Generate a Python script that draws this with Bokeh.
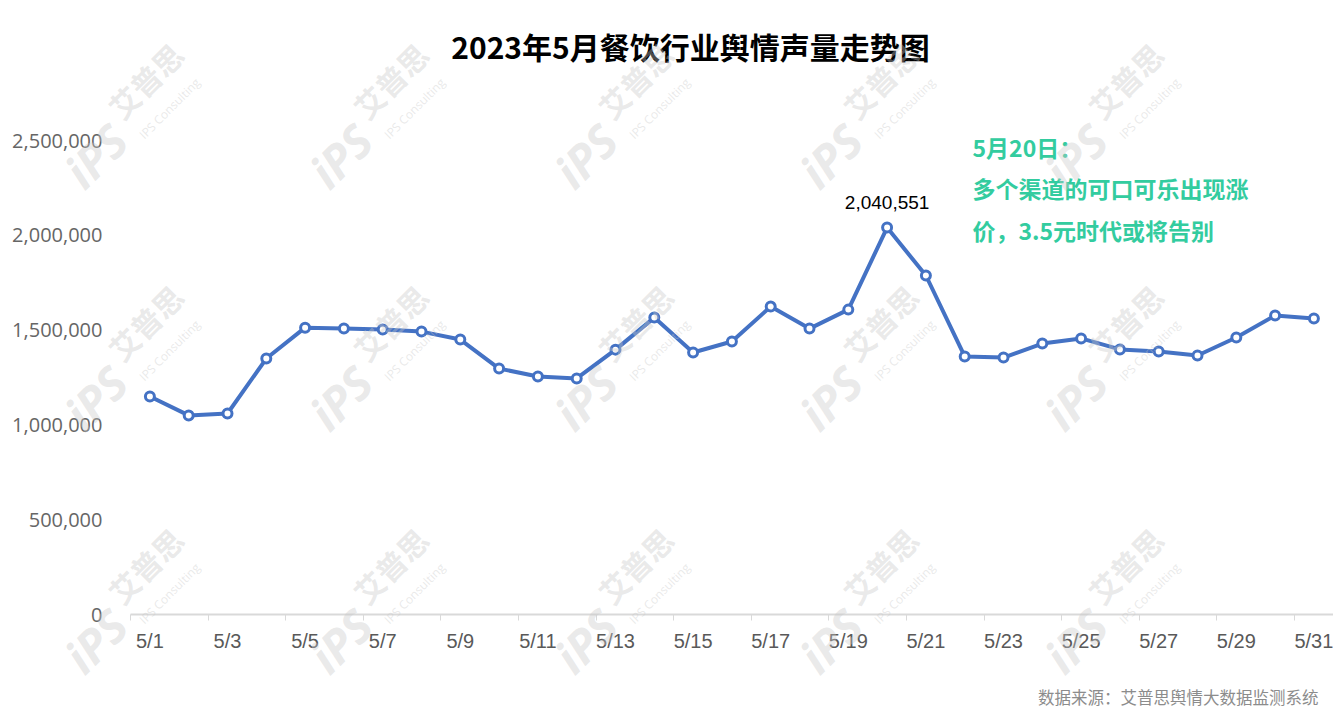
import math
from bokeh.plotting import figure
from bokeh.models import Range1d, FixedTicker, Label, ColumnDataSource
from bokeh.embed import file_html
from bokeh.resources import INLINE

# ---------------- data ----------------
days = list(range(1, 32))
day_labels = [f"5/{d}" for d in days]
volume = [1150000, 1050000, 1060000, 1350000, 1513000, 1508000, 1503000, 1492000,
          1450000, 1297000, 1255000, 1245000, 1397000, 1566000, 1382000, 1440000,
          1624000, 1508000, 1608000, 2040551, 1788000, 1361000, 1355000, 1429000,
          1456000, 1398000, 1387000, 1366000, 1461000, 1577000, 1561000]
y_ticks = [0, 500000, 1000000, 1500000, 2000000, 2500000]
y_tick_labels = ["0", "500,000", "1,000,000", "1,500,000", "2,000,000", "2,500,000"]
x_tick_days = days[::2]
peak_index = volume.index(max(volume))

title_text = "2023年5月餐饮行业舆情声量走势图"
note_lines = ["5月20日：", "多个渠道的可口可乐出现涨", "价，3.5元时代或将告别"]
source_text = "数据来源：艾普思舆情大数据监测系统"

# ---------------- layout helpers (pixel -> data) ----------------
W, H = 1333, 716
AX_L, AX_B = 130, 614          # pixel position of x=0.5 edge and y=0
STEP = 38.8
Y_PX_PER_UNIT = 474 / 2500000.0

def xd(px):
    return 0.5 + (px - AX_L) / STEP

def yd(py):
    return (AX_B - py) / Y_PX_PER_UNIT

p = figure(width=W, height=H, output_backend="svg", toolbar_location=None,
           x_range=Range1d(xd(0), xd(W)),
           y_range=Range1d(yd(H), yd(0)),
           min_border_left=0, min_border_right=0,
           min_border_top=0, min_border_bottom=0)
p.outline_line_color = None
p.background_fill_color = "white"
p.border_fill_color = "white"
p.xgrid.visible = False
p.ygrid.visible = False

# y axis (placed at the left edge of the category area)
p.yaxis.fixed_location = xd(AX_L)
p.yaxis.ticker = FixedTicker(ticks=y_ticks)
p.yaxis.major_label_overrides = {t: l for t, l in zip(y_ticks, y_tick_labels)}
p.yaxis.axis_line_color = None
p.yaxis.major_tick_line_color = None
p.yaxis.minor_tick_line_color = None
p.yaxis.major_label_standoff = 22
p.yaxis.major_label_text_font = "Open Sans"
p.yaxis.major_label_text_font_size = "20px"
p.yaxis.major_label_text_color = "#666666"

# x axis (placed at y = 0)
p.xaxis.fixed_location = 0
p.xaxis.bounds = (0.5, xd(W))
p.xaxis.ticker = FixedTicker(ticks=x_tick_days, minor_ticks=[d - 0.5 for d in x_tick_days])
p.xaxis.major_label_overrides = {d: day_labels[d - 1] for d in x_tick_days}
p.xaxis.axis_line_color = "#d9d9d9"
p.xaxis.axis_line_width = 2
p.xaxis.major_tick_line_color = None
p.xaxis.minor_tick_line_color = "#d9d9d9"
p.xaxis.minor_tick_line_width = 1
p.xaxis.minor_tick_out = 6
p.xaxis.minor_tick_in = 0
p.xaxis.major_label_standoff = 9
p.xaxis.major_label_text_font = "Liberation Sans Narrow, Liberation Sans, sans-serif"
p.xaxis.major_label_text_font_size = "20px"
p.xaxis.major_label_text_color = "#595959"

src = ColumnDataSource(dict(x=days, y=volume))
p.line("x", "y", source=src, line_color="#4472C4", line_width=4)
p.scatter("x", "y", source=src, size=9, fill_color="white", line_color="#4472C4", line_width=3)

# peak label
p.add_layout(Label(x=days[peak_index], y=volume[peak_index] + 130000,
                   text=f"{volume[peak_index]:,}", text_align="center", text_baseline="middle",
                   text_font="Liberation Sans Narrow, Liberation Sans, sans-serif",
                   text_font_size="19px", text_color="#000000"))

# title
p.add_layout(Label(x=xd(690), y=yd(45), text=title_text, text_align="center",
                   text_baseline="middle", text_font="Noto Sans CJK SC",
                   text_font_size="30px", text_font_style="bold", text_color="#000000"))

# green note
for i, line in enumerate(note_lines):
    p.add_layout(Label(x=xd(972), y=yd(146 + 41.5 * i), text=line, text_align="left",
                       text_baseline="middle", text_font="Noto Sans CJK SC",
                       text_font_size="23px", text_font_style="bold", text_color="#33CC9F"))

# source note
p.add_layout(Label(x=xd(1318), y=yd(696), text=source_text, text_align="right",
                   text_baseline="middle", text_font="Noto Sans CJK SC",
                   text_font_size="16.5px", text_color="#8c8c8c"))

# watermarks (kept inside the canvas)
for cy in [80, 322, 565]:
    for k in range(0, 5):
        cx = 145 + 245 * k
        common = dict(angle=math.pi / 4, text_align="center", text_baseline="middle",
                      text_color="#c8c8c8", text_alpha=0.4)
        p.add_layout(Label(x=xd(cx), y=yd(cy), text="艾普思", text_font="Noto Sans CJK SC",
                           text_font_size="30px", text_font_style="bold", **common))
        p.add_layout(Label(x=xd(cx + 24), y=yd(cy + 28), text="IPS Consulting",
                           text_font="Open Sans", text_font_size="12px", **common))
        p.add_layout(Label(x=xd(cx - 50), y=yd(cy + 75), text="iPS", text_font="Open Sans",
                           text_font_size="46px", text_font_style="bold italic", **common))

open("out.html", "w").write(file_html(p, INLINE))
